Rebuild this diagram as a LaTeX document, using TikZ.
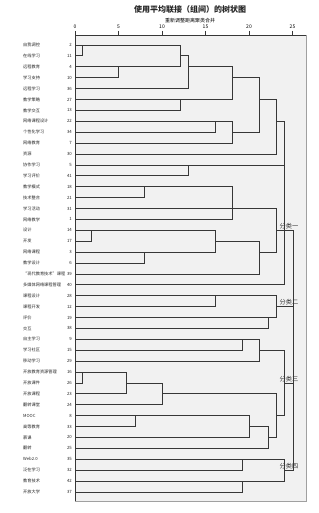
\documentclass[tikz,border=0pt]{standalone}
\usepackage{fontspec}
\usepackage{xcolor}
\usepackage{tikz}
\usetikzlibrary{calc,positioning}
\setmainfont{Noto Sans CJK SC}
\definecolor{PanelGray}{RGB}{241,241,241}
\definecolor{LineGray}{RGB}{55,55,55}
\definecolor{FrameGray}{RGB}{160,160,160}

% row position and bracket between two clusters
\newcommand{\rowy}[1]{45+(#1-1)*10.9}
\newcommand{\joinpair}[5]{%
  \coordinate (#1) at ({75+8.7*#4},{\rowy{#5}});
  \draw[tree] (#2) -- (#2 -| #1) -- (#3 -| #1) -- (#3);}

\begin{document}
\begin{tikzpicture}[x=1pt, y=-1pt,
    tree/.style={LineGray, line width=0.8pt},
    leaf/.style={font=\fontsize{4.2}{5}\selectfont, anchor=west, inner sep=0pt, text=black!85},
    num/.style={font=\fontsize{4.3}{5}\selectfont, anchor=east, inner sep=0pt, text=black!85},
    cls/.style={font=\fontsize{6.2}{7}\selectfont, inner sep=0.5pt, text=black!80}]
	\useasboundingbox (0,0) rectangle (318,513);
	\fill[white] (0,0) rectangle (318,513);
	\draw[FrameGray, fill=PanelGray, line width=0.9pt] (75,35) rectangle (306,501);
	\draw[LineGray, line width=0.8pt] (75,35) -- (306,35);
	\draw[LineGray, line width=0.8pt] (75,35) -- (75,501);
	\node[font=\bfseries\fontsize{8}{9}\selectfont, text=black!85] (title) at (190,9) {使用平均联接（组间）的树状图};
	\node[font=\fontsize{5}{6}\selectfont, below=2pt of title, inner sep=0pt] (sub) {重新调整距离聚类合并};
	\foreach \d in {0,5,...,25} {
		\draw[tree] ({75+8.7*\d},31) -- ({75+8.7*\d},35);
		\node[font=\fontsize{5}{6}\selectfont, inner sep=0pt] at ({75+8.7*\d},27) {\d};
	}
	\foreach \lab/\num [count=\i] in {自我调控/2, 在线学习/11, 远程教育/4, 学习支持/10, 远程学习/36,
		教学策略/27, 教学交互/13, 网络课程设计/22, 个性化学习/34, 网络教育/7, 资源/30,
		协作学习/5, 学习评价/41, 教学模式/18, 技术整合/21, 学习活动/31, 网络教学/1,
		设计/14, 开发/17, 网络课程/3, 教学设计/6, “现代教育技术”课程/39, 多媒体网络课程管理/40,
		课程设计/28, 课程开发/12, 评价/19, 交互/38, 自主学习/9, 学习社区/15, 移动学习/29,
		开放教育资源管理/16, 开放课件/26, 开放课程/23, 翻转课堂/24, MOOC/8, 高等教育/33,
		慕课/20, 翻转/25, Web2.0/35, 泛在学习/32, 教育技术/42, 开放大学/37} {
		\pgfmathsetmacro\yy{\rowy{\i}}
		\node[leaf] (t\i) at (23,\yy) {\lab};
		\node[num] (n\i) at (72,\yy) {\num};
		\coordinate (L\i) at (75,\yy);
	}
	\joinpair{m1}{L1}{L2}{0.9}{1}
	\joinpair{m2}{L3}{L4}{5.0}{3}
	\joinpair{m3}{m1}{m2}{12.1}{2}
	\joinpair{m4}{m3}{L5}{13.0}{3}
	\joinpair{m5}{L6}{L7}{12.1}{6}
	\joinpair{m6}{m4}{m5}{18.1}{4}
	\joinpair{m7}{L8}{L9}{16.1}{8}
	\joinpair{m8}{m7}{L10}{18.1}{9}
	\joinpair{m9}{m6}{m8}{21.2}{6}
	\joinpair{m10}{m9}{L11}{23.2}{8}
	\joinpair{m11}{L12}{L13}{13.0}{12}
	\joinpair{m12}{L14}{L15}{8.0}{14}
	\joinpair{m13}{m12}{L16}{18.1}{15}
	\joinpair{m14}{m13}{L17}{18.1}{16}
	\joinpair{m15}{L18}{L19}{1.9}{18}
	\joinpair{m16}{L20}{L21}{8.0}{20}
	\joinpair{m17}{m15}{m16}{16.1}{19}
	\joinpair{m18}{m17}{L22}{21.2}{20}
	\joinpair{m19}{m14}{m18}{23.2}{18}
	\joinpair{m20}{m10}{m11}{24.1}{10}
	\joinpair{m21}{m20}{m19}{24.1}{14}
	\joinpair{m22}{m21}{L23}{24.1}{18}
	\joinpair{m23}{L24}{L25}{16.1}{24}
	\joinpair{m24}{L26}{L27}{22.2}{26}
	\joinpair{m25}{m23}{m24}{23.2}{25}
	\joinpair{m26}{L28}{L29}{19.2}{28}
	\joinpair{m27}{m26}{L30}{21.2}{29}
	\joinpair{m28}{L31}{L32}{0.9}{31}
	\joinpair{m29}{m28}{L33}{5.9}{32}
	\joinpair{m30}{m29}{L34}{10.0}{33}
	\joinpair{m31}{L35}{L36}{6.9}{35}
	\joinpair{m32}{m31}{L37}{20.1}{36}
	\joinpair{m33}{m32}{L38}{22.2}{37}
	\joinpair{m34}{m30}{m33}{23.2}{35}
	\joinpair{m35}{m27}{m34}{24.1}{32}
	\joinpair{m36}{L39}{L40}{19.2}{39}
	\joinpair{m37}{L41}{L42}{19.2}{41}
	\joinpair{m38}{m36}{m37}{24.1}{40}
	\joinpair{m39}{m22}{m25}{25.1}{21}
	\joinpair{m40}{m39}{m35}{25.1}{26}
	\joinpair{m41}{m40}{m38}{25.1}{33}
	\foreach \txt/\r in {分类一/18, 分类二/25, 分类三/32, 分类四/40}
		\node[cls, above=0.6pt] (c\r) at ({289},{\rowy{\r}}) {\txt};
\end{tikzpicture}
\end{document}
